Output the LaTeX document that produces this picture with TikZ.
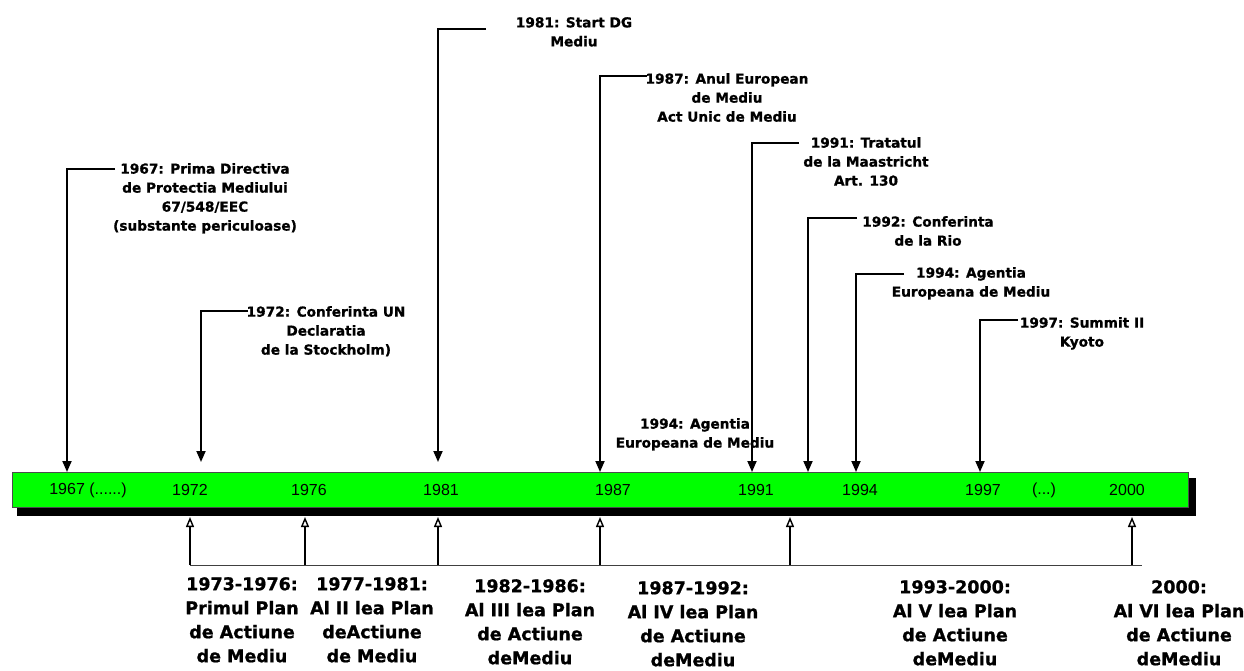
\documentclass[tikz,border=0pt]{standalone}
\usepackage{fontspec}
\setmainfont{Liberation Sans}
\newfontfamily\heavy{DejaVu Sans}[BoldFeatures={FakeBold=1}]
\usetikzlibrary{arrows.meta}
\definecolor{bargreen}{RGB}{0,255,0}
\tikzset{
  evt/.style={font=\heavy\bfseries\fontsize{13.7}{19}\selectfont, align=center, inner sep=0pt, anchor=north},
  plan/.style={font=\heavy\bfseries\fontsize{17.5}{24}\selectfont, align=center, inner sep=0pt, anchor=north},
  yr/.style={font=\fontsize{16}{18}\selectfont, inner sep=0pt},
  dn/.style={line width=1.8pt, -{Triangle[length=11pt,width=9pt]}},
  upar/.style={line width=1.4pt, -{Triangle[open,length=10pt,width=8pt]}},
  base/.style={line width=1pt, draw=black!75},
  barbox/.style={draw=black!70, line width=1pt, fill=bargreen, minimum width=1176pt, minimum height=35pt, inner sep=0pt, anchor=north west}
}
\begin{document}
\begin{tikzpicture}[x=1pt,y=-1pt]
\useasboundingbox (0,0) rectangle (1244,670);
% bar with shadow
\fill[black] (17,478) rectangle (1196,516);
\node[barbox] (bar) at (12,472) {};
% years
\node[yr] (y67) at (88,490) {1967 (......)};
\node[yr] (y72) at (190,490) {1972};
\node[yr] (y76) at (309,490) {1976};
\node[yr] (y81) at (441,490) {1981};
\node[yr] (y87) at (613,490) {1987};
\node[yr] (y91) at (756,490) {1991};
\node[yr] (y94) at (860,490) {1994};
\node[yr] (y97) at (983,490) {1997};
\node[yr] (ydots) at (1044,490) {(...)};
\node[yr] (y00) at (1127,490) {2000};
% events
\node[evt] (e67) at (205,163) {1967: Prima Directiva\\de Protectia Mediului\\67/548/EEC\\(substante periculoase)};
\node[evt] (e72) at (326,306) {1972: Conferinta UN\\Declaratia\\de la Stockholm)};
\node[evt] (e81) at (574,17) {1981: Start DG\\Mediu};
\node[evt] (e87) at (727,73) {1987: Anul European\\de Mediu\\Act Unic de Mediu};
\node[evt] (e91) at (866,137) {1991: Tratatul\\de la Maastricht\\Art. 130};
\node[evt] (e92) at (928,216) {1992: Conferinta\\de la Rio};
\node[evt] (e94) at (971,267) {1994: Agentia\\Europeana de Mediu};
\node[evt] (e97) at (1082,317) {1997: Summit II\\Kyoto};
\node[evt] (ex) at (695,418) {1994: Agentia\\Europeana de Mediu};
% event connectors
\coordinate (s67) at (115,169); \coordinate (t67) at (67,472);
\coordinate (s72) at (248,311); \coordinate (t72) at (201,462);
\coordinate (s81) at (486,29);  \coordinate (t81) at (438,462);
\coordinate (s87) at (647,76);  \coordinate (t87) at (600,472);
\coordinate (s91) at (799,143); \coordinate (t91) at (752,472);
\coordinate (s92) at (857,218); \coordinate (t92) at (808,472);
\coordinate (s94) at (904,274); \coordinate (t94) at (856,472);
\coordinate (s97) at (1018,320); \coordinate (t97) at (980,472);
\foreach \k in {67,72,81,87,91,92,94,97}{
  \draw[dn] (s\k) -| (t\k);
}
% bottom plan arrows
\coordinate (bl) at (190,565); \coordinate (br) at (1142,565);
\draw[base] (bl) -- (br);
\foreach \x [count=\i] in {190,305,438,600,790,1132}{
  \coordinate (pb\i) at (\x,565);
  \coordinate (pt\i) at (\x,517);
  \draw[upar] (pb\i) -- (pt\i);
}
% plans
\node[plan] (p1) at (242,577) {1973-1976:\\Primul Plan\\de Actiune\\de Mediu};
\node[plan] (p2) at (372,577) {1977-1981:\\Al II lea Plan\\deActiune\\de Mediu};
\node[plan] (p3) at (530,579) {1982-1986:\\Al III lea Plan\\de Actiune\\deMediu};
\node[plan] (p4) at (693,581) {1987-1992:\\Al IV lea Plan\\de Actiune\\deMediu};
\node[plan] (p5) at (955,580) {1993-2000:\\Al V lea Plan\\de Actiune\\deMediu};
\node[plan] (p6) at (1179,580) {2000:\\Al VI lea Plan\\de Actiune\\deMediu};
\end{tikzpicture}
\end{document}
